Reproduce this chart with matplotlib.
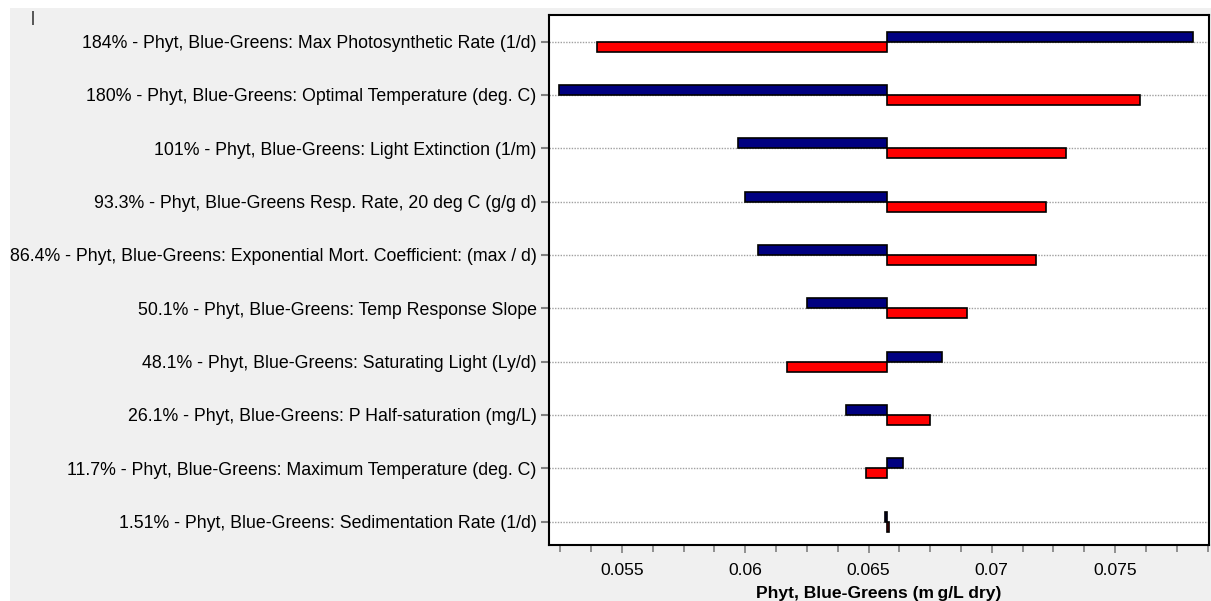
import matplotlib
matplotlib.use("Agg")
import matplotlib.pyplot as plt
import matplotlib.patches as mpatches
from matplotlib.ticker import MultipleLocator, FixedLocator

plt.rcParams['font.family'] = ['Liberation Sans', 'DejaVu Sans']

labels = [
    "184% - Phyt, Blue-Greens: Max Photosynthetic Rate (1/d)",
    "180% - Phyt, Blue-Greens: Optimal Temperature (deg. C)",
    "101% - Phyt, Blue-Greens: Light Extinction (1/m)",
    "93.3% - Phyt, Blue-Greens Resp. Rate, 20 deg C (g/g d)",
    "86.4% - Phyt, Blue-Greens: Exponential Mort. Coefficient: (max / d)",
    "50.1% - Phyt, Blue-Greens: Temp Response Slope",
    "48.1% - Phyt, Blue-Greens: Saturating Light (Ly/d)",
    "26.1% - Phyt, Blue-Greens: P Half-saturation (mg/L)",
    "11.7% - Phyt, Blue-Greens: Maximum Temperature (deg. C)",
    "1.51% - Phyt, Blue-Greens: Sedimentation Rate (1/d)",
]
base_value = 0.06573
blue_values = [0.07818, 0.05243, 0.0597, 0.0600, 0.0605, 0.0625, 0.0680, 0.0641, 0.0664, 0.06565]
red_values = [0.05397, 0.07603, 0.0730, 0.0722, 0.0718, 0.0690, 0.0617, 0.0675, 0.0649, 0.06583]
xticks = [0.055, 0.06, 0.065, 0.07, 0.075]
xticklabels = ["0.055", "0.06", "0.065", "0.07", "0.075"]
xlabel = "Phyt, Blue-Greens (m\u2009g/L dry)"

W, H = 1211, 601
fs = 12.6
fig = plt.figure(figsize=(W / 100, H / 100), dpi=100, facecolor='white')
fig.patches.append(mpatches.Rectangle((10 / W, 0), 1 - 10 / W, 1 - 8 / H,
                                      transform=fig.transFigure, facecolor='#f0f0f0',
                                      edgecolor='none', zorder=-10))

ax = fig.add_axes([549 / W, 1 - 545 / H, (1209 - 549) / W, (545 - 15) / H])
ax.set_facecolor('white')

n = len(labels)
ys = list(range(n))
h = 0.1875
for i in ys:
    ax.axhline(i, color='#a0a0a0', linestyle=(0, (1, 1)), linewidth=1.0, zorder=1)

ax.barh([y - h / 2 for y in ys], [b - base_value for b in blue_values], left=base_value,
        height=h, color='#000080', edgecolor='black', linewidth=1.2, zorder=3)
ax.barh([y + h / 2 for y in ys], [r - base_value for r in red_values], left=base_value,
        height=h, color='#ff0000', edgecolor='black', linewidth=1.2, zorder=3)

ax.set_xlim(0.05204, 0.07881)
ax.set_ylim(n - 1 + 0.44, -0.5)
ax.set_yticks(ys)
ax.set_yticklabels(labels, fontsize=12.8)
ax.xaxis.set_major_locator(FixedLocator(xticks))
ax.set_xticklabels(xticklabels, fontsize=fs)
ax.xaxis.set_minor_locator(MultipleLocator(0.00125))
ax.tick_params(axis='y', length=6, color='#808080', pad=3, width=1.5)
ax.tick_params(axis='x', which='major', length=6, color='#808080', pad=7, width=1.2)
ax.tick_params(axis='x', which='minor', length=5, color='#808080', width=1.2)
for s in ax.spines.values():
    s.set_linewidth(1.5)
    s.set_color('black')
ax.set_xlabel(xlabel, fontsize=fs, fontweight='bold', labelpad=6)

fig.text(33 / W, 1 - 18 / H, "|", fontsize=11, ha='center', va='center')

fig.savefig("out.png", dpi=100, facecolor=fig.get_facecolor())
